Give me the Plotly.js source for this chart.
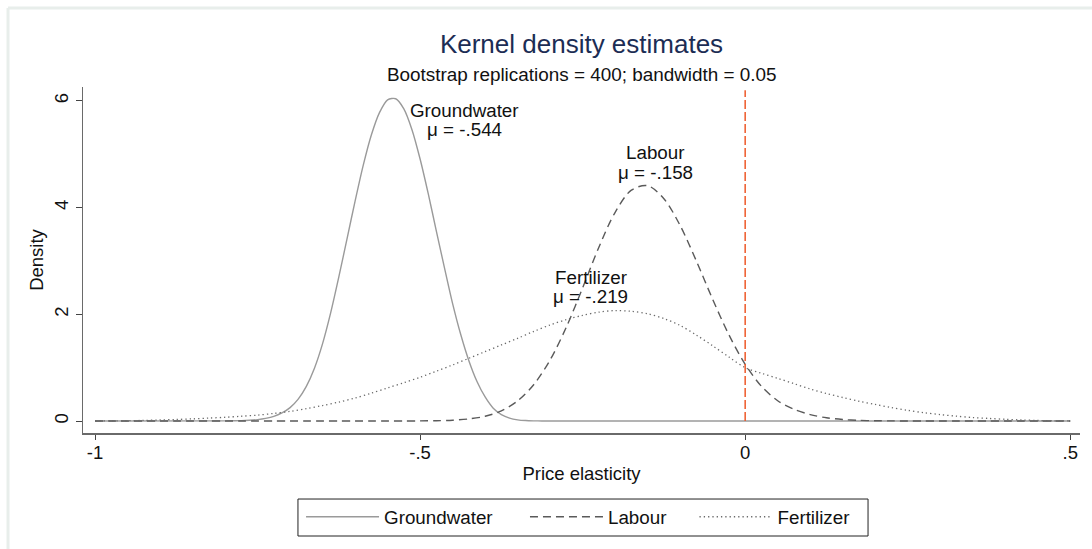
<!DOCTYPE html>
<html>
<head>
<meta charset="utf-8">
<script src="https://cdn.plot.ly/plotly-3.0.1.min.js"></script>
<style>
  html, body { margin: 0; padding: 0; background: #ffffff; }
  #chart { width: 1092px; height: 549px; }
</style>
</head>
<body>
<div id="chart"></div>
<script>
// ---- Data ----
// Groundwater: sampled more finely over its narrow support
const groundwaterX = [
  -1.000, -0.800, -0.7875, -0.775, -0.7625, -0.750, -0.7375, -0.725, -0.7125, -0.700,
  -0.6875, -0.675, -0.6625, -0.650, -0.6375, -0.625, -0.6125, -0.600, -0.5875, -0.575,
  -0.5625, -0.550, -0.5375, -0.525, -0.5125, -0.500, -0.4875, -0.475, -0.4625, -0.450,
  -0.4375, -0.425, -0.4125, -0.400, -0.3875, -0.375, -0.3625, -0.350, -0.3375, -0.325,
  -0.3125, -0.300, 0.500
];
const groundwaterDensity = [
  0, 0.002, 0.004, 0.007, 0.014, 0.026, 0.048, 0.085, 0.15, 0.25,
  0.41, 0.65, 0.99, 1.45, 2.03, 2.70, 3.41, 4.12, 4.79, 5.36,
  5.78, 6.02, 6.04, 5.85, 5.46, 4.91, 4.26, 3.56, 2.87, 2.20,
  1.62, 1.13, 0.74, 0.45, 0.24, 0.12, 0.055, 0.022, 0.008, 0.003,
  0.001, 0, 0
];

// Labour and Fertilizer share one evaluation grid
const elasticity = [
  -1.000, -0.975, -0.950, -0.925, -0.900, -0.875, -0.850, -0.825, -0.800, -0.775,
  -0.750, -0.725, -0.700, -0.675, -0.650, -0.625, -0.600, -0.575, -0.550, -0.525,
  -0.500, -0.475, -0.450, -0.425, -0.400, -0.375, -0.350, -0.325, -0.300, -0.275,
  -0.250, -0.225, -0.200, -0.175, -0.150, -0.125, -0.100, -0.075, -0.050, -0.025,
   0.000,  0.025,  0.050,  0.075,  0.100,  0.125,  0.150,  0.175,  0.200,  0.225,
   0.250,  0.275,  0.300,  0.325,  0.350,  0.375,  0.400,  0.425,  0.450,  0.475,
   0.500
];

const labourDensity = [
  0, 0, 0, 0, 0, 0, 0, 0, 0, 0,
  0, 0, 0, 0, 0, 0, 0, 0, 0, 0,
  0.002, 0.006, 0.015, 0.039, 0.089, 0.19, 0.378, 0.685, 1.145, 1.762,
  2.496, 3.257, 3.912, 4.327, 4.41, 4.166, 3.663, 2.997, 2.280, 1.615,
  1.063, 0.651, 0.38, 0.22, 0.12, 0.06, 0.028, 0.012, 0.005, 0.002,
  0, 0, 0, 0, 0, 0, 0, 0, 0, 0,
  0
];

const fertilizerDensity = [
  0.000, 0.002, 0.005, 0.011, 0.020, 0.029, 0.040, 0.054, 0.070, 0.089,
  0.110, 0.142, 0.180, 0.232, 0.290, 0.355, 0.430, 0.522, 0.620, 0.718,
  0.820, 0.933, 1.050, 1.175, 1.300, 1.425, 1.550, 1.680, 1.800, 1.900,
  1.980, 2.040, 2.070, 2.055, 2.010, 1.920, 1.790, 1.610, 1.410, 1.200,
  1.000, 0.895, 0.800, 0.700, 0.600, 0.515, 0.440, 0.370, 0.310, 0.250,
  0.200, 0.155, 0.120, 0.090, 0.065, 0.048, 0.032, 0.020, 0.010, 0.004,
  0.001
];

const seriesNames = ['Groundwater', 'Labour', 'Fertilizer'];
const seriesMeans = ['-.544', '-.158', '-.219'];
const xTickVals = [-1, -0.5, 0, 0.5];
const xTickText = ['-1', '-.5', '0', '.5'];
const yTickVals = [0, 2, 4, 6];
const yTickText = ['0', '2', '4', '6'];
const referenceLine = [0];

// ---- Layout configuration (positions, sizes, styles) ----
const FONT = 'Liberation Sans, Arial, Helvetica, sans-serif';
const XR = [-1.0185, 0.515];
const YR = [-0.225, 6.26];
const labelPos = [
  { x: -0.431, yName: 5.818, yMu: 5.457 },
  { x: -0.1385, yName: 5.025, yMu: 4.650 },
  { x: -0.2375, yName: 2.687, yMu: 2.331 }
];
const legendIds = ['legend', 'legend2', 'legend3'];
const legendX = [0.2187, 0.4433, 0.6133];
const LEGEND_Y = -0.2428;

const lineStyles = [
  { color: '#9a9a9a', width: 1.4, shape: 'spline', smoothing: 0.8 },
  { color: '#5a5a5a', width: 1.4, dash: '8px,5px', shape: 'spline', smoothing: 0.9 },
  { color: '#6a6a6a', width: 1.3, dash: '1.3px,3px', shape: 'spline', smoothing: 0.9 }
];
const xs = [groundwaterX, elasticity, elasticity];
const ys = [groundwaterDensity, labourDensity, fertilizerDensity];

const traces = seriesNames.map((n, i) => ({
  x: xs[i], y: ys[i], name: n, type: 'scatter', mode: 'lines',
  line: lineStyles[i], legend: legendIds[i]
}));

const annotations = [];
seriesNames.forEach((n, i) => {
  annotations.push({
    x: labelPos[i].x, y: labelPos[i].yName, xref: 'x', yref: 'y',
    text: n, showarrow: false, xanchor: 'center', yanchor: 'middle',
    font: { family: FONT, size: 18.8, color: '#111111' }
  });
  annotations.push({
    x: labelPos[i].x, y: labelPos[i].yMu, xref: 'x', yref: 'y',
    text: '\u03bc = ' + seriesMeans[i], showarrow: false,
    xanchor: 'center', yanchor: 'middle',
    font: { family: FONT, size: 18.8, color: '#111111' }
  });
});

annotations.push({
  text: 'Bootstrap replications = 400; bandwidth = 0.05',
  xref: 'paper', yref: 'paper', x: 0.5, y: (433 - 74) / 346,
  xanchor: 'center', yanchor: 'middle', showarrow: false,
  font: { family: FONT, size: 18.9, color: '#111111' }
});

const shapes = referenceLine.map(v => ({
  type: 'line', xref: 'x', yref: 'y', x0: v, x1: v, y0: 0, y1: 6.2,
  line: { color: '#ee5a2a', width: 1.5, dash: '9px,3px' }
}));
// faint outer frame (top and left)
shapes.push({ type: 'line', xref: 'paper', yref: 'paper',
  x0: -0.0752, x1: 1.02, y0: 1.228, y1: 1.228,
  line: { color: '#e8eeeb', width: 3 } });
shapes.push({ type: 'line', xref: 'paper', yref: 'paper',
  x0: -0.0752, x1: -0.0752, y0: 1.228, y1: -0.34,
  line: { color: '#e8eeeb', width: 3 } });
// legend frame
shapes.push({ type: 'rect', xref: 'paper', yref: 'paper',
  x0: 0.2156, x1: 0.7874, y0: -0.1908, y1: -0.2977,
  line: { color: '#222222', width: 1 }, fillcolor: 'rgba(0,0,0,0)' });

const legendBase = {
  orientation: 'h', xref: 'paper', yref: 'paper',
  xanchor: 'left', y: LEGEND_Y, yanchor: 'middle',
  borderwidth: 0, bgcolor: 'rgba(0,0,0,0)',
  font: { family: FONT, size: 18.8, color: '#111' },
  itemwidth: 73
};

const layout = {
  width: 1092, height: 549,
  margin: { l: 83, r: 12, t: 87, b: 116 },
  paper_bgcolor: '#ffffff', plot_bgcolor: '#ffffff',
  font: { family: FONT, size: 16, color: '#111111' },
  title: {
    text: 'Kernel density estimates',
    xref: 'paper', x: 0.5, xanchor: 'center',
    yref: 'container', y: 1 - 44 / 549, yanchor: 'middle',
    font: { family: FONT, size: 26, color: '#1c2d54' }
  },
  xaxis: {
    range: XR, tickvals: xTickVals, ticktext: xTickText,
    ticks: 'outside', ticklen: 5, tickwidth: 1, tickcolor: '#444',
    ticklabelstandoff: -3,
    showline: true, linecolor: '#6a6a6a', linewidth: 1.5,
    showgrid: false, zeroline: false,
    tickfont: { family: FONT, size: 18.5, color: '#111' },
    title: { text: 'Price elasticity', standoff: 5,
             font: { family: FONT, size: 18.5, color: '#111' } }
  },
  yaxis: {
    range: YR, tickvals: yTickVals, ticktext: yTickText, tickangle: -90,
    ticks: 'outside', ticklen: 6, tickwidth: 1, tickcolor: '#444',
    showline: true, linecolor: '#6a6a6a', linewidth: 1.2,
    showgrid: false, zeroline: false,
    tickfont: { family: FONT, size: 18.5, color: '#111' },
    title: { text: 'Density', standoff: 3,
             font: { family: FONT, size: 18.5, color: '#111' } }
  },
  showlegend: true,
  legend: Object.assign({}, legendBase, { x: legendX[0] }),
  legend2: Object.assign({}, legendBase, { x: legendX[1] }),
  legend3: Object.assign({}, legendBase, { x: legendX[2] }),
  annotations: annotations,
  shapes: shapes
};

Plotly.newPlot('chart', traces, layout, { displayModeBar: false, staticPlot: true });
</script>
</body>
</html>
